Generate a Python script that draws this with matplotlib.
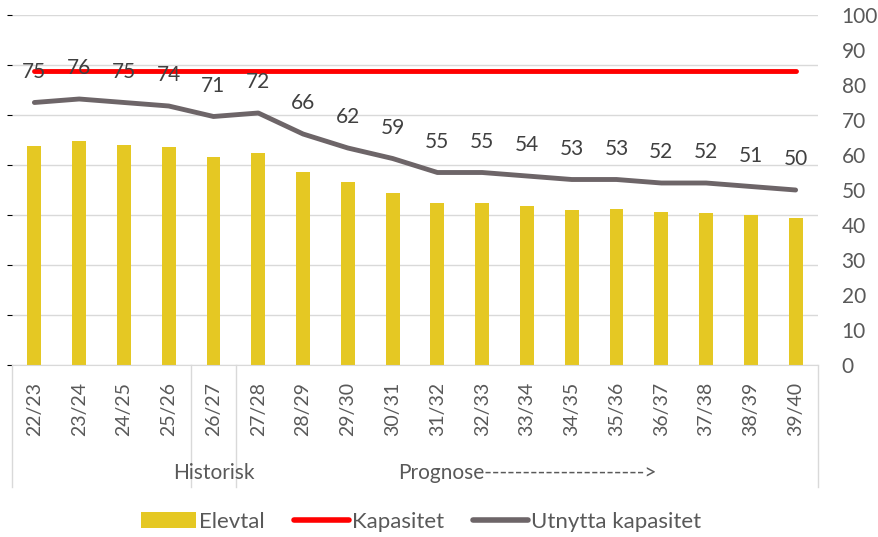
import matplotlib
matplotlib.use("Agg")
import matplotlib.pyplot as plt
import matplotlib.transforms as mtransforms
from matplotlib.patches import Patch
from matplotlib.lines import Line2D

plt.rcParams['font.family'] = ['Lato', 'DejaVu Sans']

# Data
skoleaar = ["22/23", "23/24", "24/25", "25/26", "26/27", "27/28", "28/29", "29/30",
            "30/31", "31/32", "32/33", "33/34", "34/35", "35/36", "36/37", "37/38",
            "38/39", "39/40"]
elevtal = [438, 448, 441, 436, 416, 424, 387, 366, 345, 324, 324, 319, 311, 312,
           306, 304, 300, 294]
kapasitet = [588] * len(skoleaar)
utnytta = [75, 76, 75, 74, 71, 72, 66, 62, 59, 55, 55, 54, 53, 53, 52, 52, 51, 50]

# Kategorigrupper: (start, slutt, tekst)
grupper = [(0, 3, ""), (4, 4, "Historisk"), (5, 17, "Prognose--------------------->")]

txt_col = "#595959"
lab_col = "#404040"
grid_col = "#D9D9D9"

fig = plt.figure(figsize=(8.79, 5.37), dpi=100)
ax = fig.add_axes([12 / 879, 1 - 365 / 537, (818 - 12) / 879, 350 / 537])
x = list(range(len(skoleaar)))

# Stolper og kapasitet på primærakse (skjult)
ax.bar(x, elevtal, width=0.31, color="#E5C823", zorder=2)
ax.plot(x, kapasitet, color="#FF0000", lw=3.5, solid_capstyle="round", zorder=3)
ax.set_ylim(0, 700)
ax.set_yticks(range(0, 701, 100))
ax.set_xlim(-0.5, len(skoleaar) - 0.5)
ax.grid(axis="y", color=grid_col, lw=1, zorder=0)
ax.set_axisbelow(True)
for s in ["top", "left", "right"]:
    ax.spines[s].set_visible(False)
ax.spines["bottom"].set_color(grid_col)
ax.tick_params(axis="y", left=False, labelleft=False)
ax.set_xticks(x)
ax.set_xticklabels(skoleaar, rotation=90, fontsize=14, color=txt_col)
ax.tick_params(axis="x", length=0, pad=12)

# Utnyttelse på sekundærakse
ax2 = ax.twinx()
ax2.plot(x, utnytta, color="#6D6568", lw=3.5, solid_capstyle="round", zorder=3)
for xi, v in zip(x, utnytta):
    ax2.annotate(f"{v}", (xi, v), xytext=(0, 22), textcoords="offset points",
                 ha="center", va="center", fontsize=15, color=lab_col)
ax2.set_ylim(0, 100)
ax2.set_yticks(range(0, 101, 10))
ax2.tick_params(axis="y", length=0, pad=17, labelsize=15, labelcolor=txt_col)
for lbl in ax2.get_yticklabels():
    lbl.set_horizontalalignment("left")
for s in ax2.spines.values():
    s.set_visible(False)

# Grupperte kategorier under aksen
trans = mtransforms.blended_transform_factory(ax.transData, ax.transAxes)
skille = [-0.5] + [g[1] + 0.5 for g in grupper]
for sx in skille:
    ax.plot([sx, sx], [0, -0.349], transform=trans, color=grid_col, lw=1, clip_on=False)
for start, slutt, tekst in grupper:
    if tekst:
        ax.text((start + slutt) / 2, -0.309, tekst, transform=trans, ha="center",
                va="center", fontsize=15, color=txt_col)

# Forklaring
handles = [Patch(facecolor="#E5C823"),
           Line2D([], [], color="#FF0000", lw=4, solid_capstyle="round"),
           Line2D([], [], color="#6D6568", lw=4, solid_capstyle="round")]
fig.legend(handles, ["Elevtal", "Kapasitet", "Utnytta kapasitet"], loc="center",
           bbox_to_anchor=(0.479, 0.028), ncol=3, frameon=False, fontsize=16,
           labelcolor=txt_col, handlelength=2.5, handleheight=0.7,
           handletextpad=0.12, columnspacing=1.3)

fig.savefig("out.png", dpi=100)
